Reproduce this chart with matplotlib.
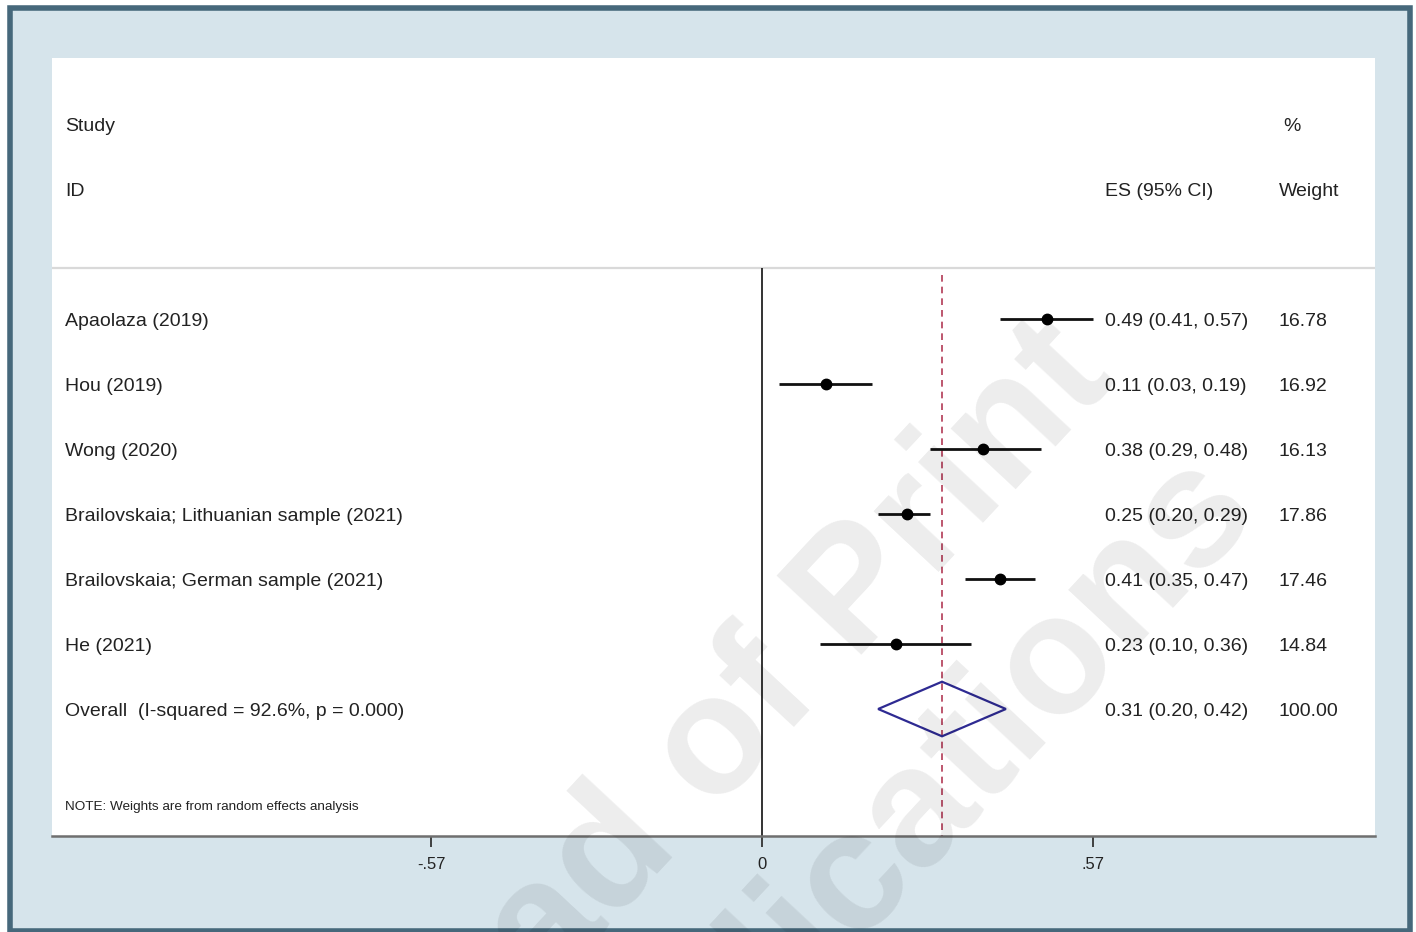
import matplotlib.pyplot as plt
from matplotlib.patches import Rectangle, Polygon

plt.rcParams["font.family"] = ["Liberation Sans", "DejaVu Sans"]

W, H = 1416, 932

studies = [
    "Apaolaza (2019)",
    "Hou (2019)",
    "Wong (2020)",
    "Brailovskaia; Lithuanian sample (2021)",
    "Brailovskaia; German sample (2021)",
    "He (2021)",
]
es = [0.49, 0.11, 0.38, 0.25, 0.41, 0.23]
ci_low = [0.41, 0.03, 0.29, 0.20, 0.35, 0.10]
ci_high = [0.57, 0.19, 0.48, 0.29, 0.47, 0.36]
weights = [16.78, 16.92, 16.13, 17.86, 17.46, 14.84]

overall_label = "Overall  (I-squared = 92.6%, p = 0.000)"
overall_es, overall_low, overall_high = 0.31, 0.20, 0.42
overall_weight = 100.00

tick_values = [-0.57, 0, 0.57]
tick_labels = ["-.57", "0", ".57"]

TEXT = "#222222"


def fx(px):
    return px / W


def fy(py):
    # image pixel row (from top) -> figure fraction
    return 1 - py / H


fig = plt.figure(figsize=(W / 100, H / 100), dpi=100, facecolor="white")

# outer light-blue frame with dark border
fig.add_artist(Rectangle((fx(9.5), fy(931)), fx(1400), 923 / H,
                         transform=fig.transFigure, facecolor="#d6e4eb",
                         edgecolor="#46687b", linewidth=4.0, zorder=-10))

ax = fig.add_axes([fx(52), fy(836), fx(1323), (836 - 58) / H])
ax.set_facecolor("white")

# 0.57 units = 331 px
scale = 0.57 / 331
ax.set_xlim((52 - 762) * scale, (1375 - 762) * scale)
ax.set_ylim((836 - 319) / 65, (58 - 319) / 65)

for s in ["top", "left", "right"]:
    ax.spines[s].set_visible(False)
ax.spines["bottom"].set_color("#6f6f6f")
ax.spines["bottom"].set_linewidth(1.8)
ax.set_yticks([])
ax.set_xticks(tick_values, tick_labels)
ax.tick_params(axis="x", length=8, width=1.3, color="#333333", pad=7,
               labelsize=12, labelcolor=TEXT)

rows = list(range(len(studies)))
overall_row = len(studies)
sep_row = (268 - 319) / 65

# header separator
ax.axhline(sep_row, color="#d9d9d9", linewidth=1.6)
# null line and overall line
ax.vlines(0, sep_row, ax.get_ylim()[0], color="#111111", linewidth=1.2)
ax.vlines(overall_es, sep_row + 0.1, ax.get_ylim()[0], color="#b23a55",
          linewidth=1.2, linestyles=(0, (4, 3)))

# study CIs and points
ax.hlines(rows, ci_low, ci_high, color="#111111", linewidth=2.0, zorder=3)
ax.plot(es, rows, "o", color="black", markersize=7.5, zorder=4)

# overall diamond
ax.add_patch(Polygon([(overall_low, overall_row), (overall_es, overall_row - 0.42),
                      (overall_high, overall_row), (overall_es, overall_row + 0.42)],
                     closed=True, fill=False, edgecolor="#2e2a92", linewidth=1.6,
                     zorder=4))

# text columns
tr = ax.get_yaxis_transform()
x_lab = (65 - 52) / 1323
x_es = (1105 - 52) / 1323
x_wt = (1279 - 52) / 1323
dy = 0.035  # small nudge so text centres sit on the row


def put(x, y, s, size=14):
    ax.text(x, y + dy, s, transform=tr, ha="left", va="center",
            fontsize=size, color=TEXT)


put(x_lab, -3, "Study")
put(x_lab, -2, "ID")
put(x_es, -2, "ES (95% CI)")
put(x_wt + 0.003, -3, "%")
put(x_wt, -2, "Weight")

for r, name, e, lo, hi, w in zip(rows, studies, es, ci_low, ci_high, weights):
    put(x_lab, r, name)
    put(x_es, r, f"{e:.2f} ({lo:.2f}, {hi:.2f})")
    put(x_wt, r, f"{w:.2f}")

put(x_lab, overall_row, overall_label)
put(x_es, overall_row, f"{overall_es:.2f} ({overall_low:.2f}, {overall_high:.2f})")
put(x_wt, overall_row, f"{overall_weight:.2f}")

put(x_lab, (805 - 319) / 65, "NOTE: Weights are from random effects analysis", size=9.7)

# watermark
wm = dict(rotation=47, rotation_mode="anchor", ha="right", va="baseline",
          fontsize=122, fontweight="bold", color="black", alpha=0.075,
          transform=fig.transFigure)
fig.text(fx(1118), fy(380), "Ahead of Print", **wm)
fig.text(fx(1258), fy(505), "Publications", **wm)

fig.savefig("out.png", dpi=100, facecolor="white")
